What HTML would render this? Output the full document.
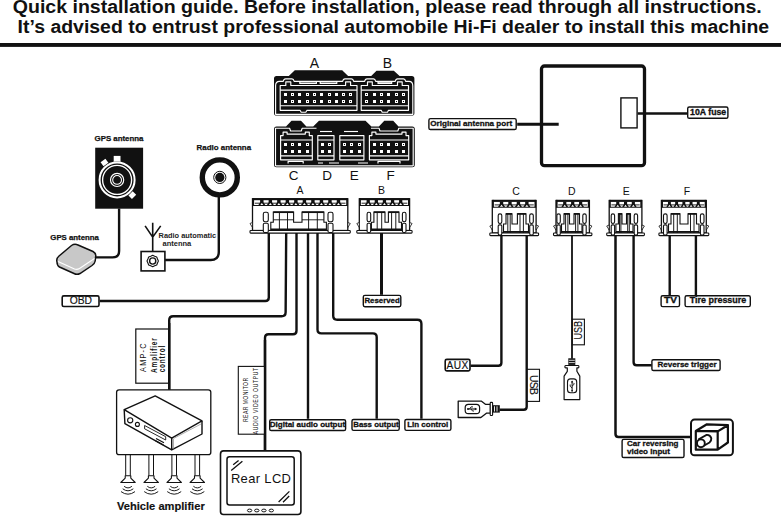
<!DOCTYPE html><html><head><meta charset="utf-8"><style>html,body{margin:0;padding:0;background:#fff;overflow:hidden}svg{display:block}</style></head><body>
<svg width="781" height="516" viewBox="0 0 781 516" style="font-family:'Liberation Sans',sans-serif" fill="#111">
<text x="12.8" y="12.8" font-size="17.5" font-weight="bold" textLength="749" lengthAdjust="spacingAndGlyphs">Quick installation guide. Before installation, please read through all instructions.</text>
<text x="17.6" y="32.7" font-size="17.5" font-weight="bold" textLength="751.5" lengthAdjust="spacingAndGlyphs">It’s advised to entrust professional automobile Hi-Fi dealer to install this machine</text>
<rect x="0" y="43" width="781" height="3.9" fill="#111"/>
<text x="314.4" y="67.6" font-size="14" text-anchor="middle">A</text>
<text x="387.3" y="67.6" font-size="14" text-anchor="middle">B</text>
<text x="293.5" y="179.5" font-size="13.5" text-anchor="middle">C</text>
<text x="327" y="179.5" font-size="13.5" text-anchor="middle">D</text>
<text x="354.2" y="179.5" font-size="13.5" text-anchor="middle">E</text>
<text x="390.5" y="179.5" font-size="13.5" text-anchor="middle">F</text>
<path d="M274,78.5 Q274,76 276.5,76 L288.8,76 L294.8,70.3 L342.2,70.3 L348.1,76 L371.2,76 L376.5,70.7 L393.8,70.7 L399.6,76 L411.8,76 Q414.4,76 414.4,78.5 L414.4,113 Q414.4,115.6 411.8,115.6 L276.5,115.6 Q274,115.6 274,113 Z" fill="#111"/>
<path d="M275.6,114.3 V85.5 Q275.6,81.4 279.5,81.4 H283.2 Q283.8,78.8 285.5,78.8 H292 Q293.6,78.8 294.2,81.4 H342.6 Q343.2,78.8 345,78.8 H351.5 Q353.1,78.8 353.7,81.4 H364.6 Q365.2,78.8 367,78.8 H373.5 Q375.1,78.8 375.7,81.4 H395.2 Q395.8,78.8 397.6,78.8 H403.5 Q405.1,78.8 405.7,81.4 H409 Q412.8,81.4 412.8,86 V114.3 Z" stroke="#fff" stroke-width="1.15" fill="none" stroke-linejoin="round"/>
<path d="M280.2,110.3 V85.5 H285.8 V81.9 H290.8 V85.5 H345.6 V81.9 H350.6 V85.5 H357 V110.3 H307 L305.8,112.2 H301.2 L300,110.3 Z" stroke="#fff" stroke-width="1.15" fill="none" stroke-linejoin="round"/>
<rect x="299.8" y="81.9" width="16.6" height="1.6" stroke="#fff" stroke-width="1.15" fill="none" stroke-linejoin="round"/>
<rect x="320.2" y="81.9" width="16.6" height="1.6" stroke="#fff" stroke-width="1.15" fill="none" stroke-linejoin="round"/>
<path d="M280.2,90.1 H357 M280.2,105.7 H357" stroke="#fff" stroke-width="1.15" fill="none" stroke-linejoin="round"/>
<rect x="284" y="93" width="3" height="3" fill="#fff"/>
<rect x="291" y="93" width="3" height="3" fill="#fff"/>
<rect x="292" y="94" width="1" height="1" fill="#111"/>
<rect x="298" y="93" width="3" height="3" fill="#fff"/>
<rect x="306" y="93" width="3" height="3" fill="#fff"/>
<rect x="307" y="94" width="1" height="1" fill="#111"/>
<rect x="313" y="93" width="3" height="3" fill="#fff"/>
<rect x="314" y="94" width="1" height="1" fill="#111"/>
<rect x="320" y="93" width="3" height="3" fill="#fff"/>
<rect x="328" y="93" width="3" height="3" fill="#fff"/>
<rect x="329" y="94" width="1" height="1" fill="#111"/>
<rect x="335" y="93" width="3" height="3" fill="#fff"/>
<rect x="342" y="93" width="3" height="3" fill="#fff"/>
<rect x="343" y="94" width="1" height="1" fill="#111"/>
<rect x="349" y="93" width="3" height="3" fill="#fff"/>
<rect x="350" y="94" width="1" height="1" fill="#111"/>
<rect x="284" y="100" width="3" height="3" fill="#fff"/>
<rect x="291" y="100" width="3" height="3" fill="#fff"/>
<rect x="292" y="101" width="1" height="1" fill="#111"/>
<rect x="298" y="100" width="3" height="3" fill="#fff"/>
<rect x="306" y="100" width="3" height="3" fill="#fff"/>
<rect x="307" y="101" width="1" height="1" fill="#111"/>
<rect x="313" y="100" width="3" height="3" fill="#fff"/>
<rect x="314" y="101" width="1" height="1" fill="#111"/>
<rect x="320" y="100" width="3" height="3" fill="#fff"/>
<rect x="328" y="100" width="3" height="3" fill="#fff"/>
<rect x="329" y="101" width="1" height="1" fill="#111"/>
<rect x="335" y="100" width="3" height="3" fill="#fff"/>
<rect x="342" y="100" width="3" height="3" fill="#fff"/>
<rect x="343" y="101" width="1" height="1" fill="#111"/>
<rect x="349" y="100" width="3" height="3" fill="#fff"/>
<rect x="350" y="101" width="1" height="1" fill="#111"/>
<path d="M361.2,110.3 V85.5 H367.5 V81.9 H372.3 V85.5 H397.5 V81.9 H402.2 V85.5 H408.5 V110.3 H388.5 L387.5,112.2 H382.2 L381.2,110.3 Z" stroke="#fff" stroke-width="1.15" fill="none" stroke-linejoin="round"/>
<rect x="378" y="81.9" width="13.7" height="1.5" stroke="#fff" stroke-width="1.15" fill="none" stroke-linejoin="round"/>
<path d="M361.2,90.1 H408.5 M361.2,105.7 H408.5" stroke="#fff" stroke-width="1.15" fill="none" stroke-linejoin="round"/>
<rect x="365" y="93" width="3" height="3" fill="#fff"/>
<rect x="366" y="94" width="1" height="1" fill="#111"/>
<rect x="373" y="93" width="3" height="3" fill="#fff"/>
<rect x="380" y="93" width="3" height="3" fill="#fff"/>
<rect x="381" y="94" width="1" height="1" fill="#111"/>
<rect x="387" y="93" width="3" height="3" fill="#fff"/>
<rect x="395" y="93" width="3" height="3" fill="#fff"/>
<rect x="396" y="94" width="1" height="1" fill="#111"/>
<rect x="402" y="93" width="3" height="3" fill="#fff"/>
<rect x="403" y="94" width="1" height="1" fill="#111"/>
<rect x="365" y="100" width="3" height="3" fill="#fff"/>
<rect x="366" y="101" width="1" height="1" fill="#111"/>
<rect x="373" y="100" width="3" height="3" fill="#fff"/>
<rect x="380" y="100" width="3" height="3" fill="#fff"/>
<rect x="381" y="101" width="1" height="1" fill="#111"/>
<rect x="387" y="100" width="3" height="3" fill="#fff"/>
<rect x="395" y="100" width="3" height="3" fill="#fff"/>
<rect x="396" y="101" width="1" height="1" fill="#111"/>
<rect x="402" y="100" width="3" height="3" fill="#fff"/>
<rect x="403" y="101" width="1" height="1" fill="#111"/>
<path d="M274,129 Q274,126.5 276.5,126.5 L286,126.5 L291.5,120.7 L301,120.7 L306.4,126.5 L313.2,126.5 L319,120.7 L365.5,120.7 L371.4,126.5 L378.9,126.5 L384.3,120.7 L393.2,120.7 L398.5,126.5 L412.3,126.5 Q414.8,126.5 414.8,129 L414.8,164.8 Q414.8,167.3 412.3,167.3 L276.5,167.3 Q274,167.3 274,164.8 Z" fill="#111"/>
<path d="M275.5,166 V128.2 H289.6 L290.6,131 H301.2 L302.2,128.2 H316.5" stroke="#fff" stroke-width="1.15" fill="none" stroke-linejoin="round"/>
<path d="M371,128.2 H379 L380,131 H397.8 L398.8,128.2 H413.2 V166" stroke="#fff" stroke-width="1.15" fill="none" stroke-linejoin="round"/>
<path d="M275.5,165.9 H413.2" stroke="#fff" stroke-width="1.15" fill="none" stroke-linejoin="round"/>
<path d="M280.6,159.8 V135.6 H283.1 V132.1 H287.1 V134.1 H305.3 V132.1 H309.3 V135.6 H312.3 V159.8 Z" stroke="#fff" stroke-width="1.15" fill="none" stroke-linejoin="round"/>
<path d="M280.6,140 H312.3 M280.6,155.8 H312.3" stroke="#fff" stroke-width="1.15" fill="none" stroke-linejoin="round"/>
<path d="M288.1,163.6 V161.3 H303.2 V163.6" stroke="#fff" stroke-width="1.15" fill="none" stroke-linejoin="round"/>
<rect x="284" y="143" width="3" height="3" fill="#fff"/>
<rect x="291" y="143" width="3" height="3" fill="#fff"/>
<rect x="292" y="144" width="1" height="1" fill="#111"/>
<rect x="298" y="143" width="3" height="3" fill="#fff"/>
<rect x="306" y="143" width="3" height="3" fill="#fff"/>
<rect x="307" y="144" width="1" height="1" fill="#111"/>
<rect x="284" y="150" width="3" height="3" fill="#fff"/>
<rect x="291" y="150" width="3" height="3" fill="#fff"/>
<rect x="298" y="150" width="3" height="3" fill="#fff"/>
<rect x="306" y="150" width="3" height="3" fill="#fff"/>
<path d="M317.8,159.8 V135.6 H334 V159.8 Z" stroke="#fff" stroke-width="1.15" fill="none" stroke-linejoin="round"/>
<path d="M317.8,140 H334 M317.8,155.8 H334" stroke="#fff" stroke-width="1.15" fill="none" stroke-linejoin="round"/>
<path d="M320,131.5 H332" stroke="#fff" stroke-width="1.15" fill="none" stroke-linejoin="round"/>
<rect x="321" y="143" width="3" height="3" fill="#fff"/>
<rect x="328" y="143" width="3" height="3" fill="#fff"/>
<rect x="329" y="144" width="1" height="1" fill="#111"/>
<rect x="321" y="150" width="3" height="3" fill="#fff"/>
<rect x="328" y="150" width="3" height="3" fill="#fff"/>
<path d="M339.8,159.8 V135.6 H363.9 V159.8 Z" stroke="#fff" stroke-width="1.15" fill="none" stroke-linejoin="round"/>
<path d="M339.8,140 H363.9 M339.8,155.8 H363.9" stroke="#fff" stroke-width="1.15" fill="none" stroke-linejoin="round"/>
<path d="M344,131.5 H358" stroke="#fff" stroke-width="1.15" fill="none" stroke-linejoin="round"/>
<rect x="343" y="143" width="3" height="3" fill="#fff"/>
<rect x="344" y="144" width="1" height="1" fill="#111"/>
<rect x="350" y="143" width="3" height="3" fill="#fff"/>
<rect x="351" y="144" width="1" height="1" fill="#111"/>
<rect x="358" y="143" width="3" height="3" fill="#fff"/>
<rect x="359" y="144" width="1" height="1" fill="#111"/>
<rect x="343" y="150" width="3" height="3" fill="#fff"/>
<rect x="350" y="150" width="3" height="3" fill="#fff"/>
<rect x="358" y="150" width="3" height="3" fill="#fff"/>
<path d="M369.4,159.8 V135.6 H371.9 V132.1 H375.9 V134.1 H402 V132.1 H406 V135.6 H408.7 V159.8 Z" stroke="#fff" stroke-width="1.15" fill="none" stroke-linejoin="round"/>
<path d="M369.4,140 H408.7 M369.4,155.8 H408.7" stroke="#fff" stroke-width="1.15" fill="none" stroke-linejoin="round"/>
<path d="M378,163.6 V161.3 H400 V163.6" stroke="#fff" stroke-width="1.15" fill="none" stroke-linejoin="round"/>
<rect x="373" y="143" width="3" height="3" fill="#fff"/>
<rect x="380" y="143" width="3" height="3" fill="#fff"/>
<rect x="381" y="144" width="1" height="1" fill="#111"/>
<rect x="387" y="143" width="3" height="3" fill="#fff"/>
<rect x="395" y="143" width="3" height="3" fill="#fff"/>
<rect x="396" y="144" width="1" height="1" fill="#111"/>
<rect x="402" y="143" width="3" height="3" fill="#fff"/>
<rect x="403" y="144" width="1" height="1" fill="#111"/>
<rect x="373" y="150" width="3" height="3" fill="#fff"/>
<rect x="380" y="150" width="3" height="3" fill="#fff"/>
<rect x="387" y="150" width="3" height="3" fill="#fff"/>
<rect x="395" y="150" width="3" height="3" fill="#fff"/>
<rect x="402" y="150" width="3" height="3" fill="#fff"/>
<path d="M318,163 H323 M329,163 H339 M358,163 H368" stroke="#fff" stroke-width="1.15" fill="none" stroke-linejoin="round"/>
<rect x="541.5" y="66" width="103" height="99.7" rx="3" fill="none" stroke="#111" stroke-width="3.3"/>
<rect x="620.9" y="97.9" width="16.2" height="30" fill="#fff" stroke="#111" stroke-width="1.4"/>
<path d="M517.2,124.3 H558.7" fill="none" stroke="#111" stroke-width="3" stroke-linecap="butt" stroke-linejoin="round"/>
<path d="M637.7,113.5 H687.5" fill="none" stroke="#111" stroke-width="2.5" stroke-linecap="butt" stroke-linejoin="round"/>
<rect x="428.90" y="118.60" width="87.30" height="10.90" rx="1.6" fill="#fff" stroke="#111" stroke-width="1.4"/>
<text x="430.32" y="126.1" font-size="7.99" font-weight="bold" textLength="81.78" lengthAdjust="spacingAndGlyphs" stroke="#111" stroke-width="0.3">Original antenna port</text>
<rect x="687.70" y="107.00" width="40.20" height="11.30" rx="1.6" fill="#fff" stroke="#111" stroke-width="1.4"/>
<text x="690.11" y="114.8" font-size="8.14" font-weight="bold" textLength="36.09" lengthAdjust="spacingAndGlyphs" stroke="#111" stroke-width="0.3">10A fuse</text>
<text x="300" y="193.6" font-size="10.5" text-anchor="middle">A</text>
<text x="381.6" y="193.6" font-size="10.5" text-anchor="middle">B</text>
<text x="516.1" y="194.9" font-size="10.5" text-anchor="middle">C</text>
<text x="571.9" y="194.9" font-size="10.5" text-anchor="middle">D</text>
<text x="626.3" y="194.9" font-size="10.5" text-anchor="middle">E</text>
<text x="687" y="194.9" font-size="10.5" text-anchor="middle">F</text>
<rect x="252.5" y="198.8" width="95.30000000000001" height="31.69999999999999" fill="#fff" stroke="#111" stroke-width="1.3"/>
<rect x="252.5" y="198.20000000000002" width="95.30000000000001" height="2" fill="#111"/>
<path d="M260.11,199.8 H263.52 V202.20000000000002 L265.40,205.20000000000002 H263.52 L261.82,203.0 L260.11,205.20000000000002 H258.24 L260.11,202.20000000000002 Z" fill="#111"/>
<path d="M254.83,203.20000000000002 H260.28" stroke="#111" stroke-width="0.9"/>
<path d="M268.63,199.8 H272.04 V202.20000000000002 L273.91,205.20000000000002 H272.04 L270.34,203.0 L268.63,205.20000000000002 H266.76 L268.63,202.20000000000002 Z" fill="#111"/>
<path d="M263.35,203.20000000000002 H268.80" stroke="#111" stroke-width="0.9"/>
<path d="M277.15,199.8 H280.56 V202.20000000000002 L282.43,205.20000000000002 H280.56 L278.85,203.0 L277.15,205.20000000000002 H275.28 L277.15,202.20000000000002 Z" fill="#111"/>
<path d="M271.87,203.20000000000002 H277.32" stroke="#111" stroke-width="0.9"/>
<path d="M285.67,199.8 H289.08 V202.20000000000002 L290.95,205.20000000000002 H289.08 L287.37,203.0 L285.67,205.20000000000002 H283.80 L285.67,202.20000000000002 Z" fill="#111"/>
<path d="M280.39,203.20000000000002 H285.84" stroke="#111" stroke-width="0.9"/>
<path d="M294.19,199.8 H297.59 V202.20000000000002 L299.47,205.20000000000002 H297.59 L295.89,203.0 L294.19,205.20000000000002 H292.31 L294.19,202.20000000000002 Z" fill="#111"/>
<path d="M288.91,203.20000000000002 H294.36" stroke="#111" stroke-width="0.9"/>
<path d="M302.71,199.8 H306.11 V202.20000000000002 L307.99,205.20000000000002 H306.11 L304.41,203.0 L302.71,205.20000000000002 H300.83 L302.71,202.20000000000002 Z" fill="#111"/>
<path d="M297.42,203.20000000000002 H302.88" stroke="#111" stroke-width="0.9"/>
<path d="M311.22,199.8 H314.63 V202.20000000000002 L316.50,205.20000000000002 H314.63 L312.93,203.0 L311.22,205.20000000000002 H309.35 L311.22,202.20000000000002 Z" fill="#111"/>
<path d="M305.94,203.20000000000002 H311.39" stroke="#111" stroke-width="0.9"/>
<path d="M319.74,199.8 H323.15 V202.20000000000002 L325.02,205.20000000000002 H323.15 L321.45,203.0 L319.74,205.20000000000002 H317.87 L319.74,202.20000000000002 Z" fill="#111"/>
<path d="M314.46,203.20000000000002 H319.91" stroke="#111" stroke-width="0.9"/>
<path d="M328.26,199.8 H331.67 V202.20000000000002 L333.54,205.20000000000002 H331.67 L329.96,203.0 L328.26,205.20000000000002 H326.39 L328.26,202.20000000000002 Z" fill="#111"/>
<path d="M322.98,203.20000000000002 H328.43" stroke="#111" stroke-width="0.9"/>
<path d="M336.78,199.8 H340.19 V202.20000000000002 L342.06,205.20000000000002 H340.19 L338.48,203.0 L336.78,205.20000000000002 H334.90 L336.78,202.20000000000002 Z" fill="#111"/>
<path d="M331.50,203.20000000000002 H336.95" stroke="#111" stroke-width="0.9"/>
<path d="M340.02,203.20000000000002 H345.47" stroke="#111" stroke-width="0.9"/>
<rect x="252.5" y="198.20000000000002" width="1.6" height="7.4" fill="#111"/><rect x="346.2" y="198.20000000000002" width="1.6" height="7.4" fill="#111"/>
<path d="M252.5,205.5 H347.8" stroke="#111" stroke-width="1.1"/>
<rect x="250.0" y="230.5" width="100.30000000000001" height="2.6" rx="0.8" fill="#fff" stroke="#111" stroke-width="1.1"/>
<path d="M250.0,223.5 L252.5,222.5 L252.5,227.5 Z" fill="#fff" stroke="#111" stroke-width="0.8"/>
<path d="M350.3,223.5 L347.8,222.5 L347.8,227.5 Z" fill="#fff" stroke="#111" stroke-width="0.8"/>
<rect x="263.3" y="212.20000000000002" width="5" height="9.6" rx="1.7" fill="#fff" stroke="#111" stroke-width="1.1"/>
<rect x="263.3" y="223.20000000000002" width="5" height="9.29999999999999" rx="1.2" fill="#fff" stroke="#111" stroke-width="1.1"/>
<rect x="328.0" y="212.20000000000002" width="5" height="9.6" rx="1.7" fill="#fff" stroke="#111" stroke-width="1.1"/>
<rect x="328.0" y="223.20000000000002" width="5" height="9.29999999999999" rx="1.2" fill="#fff" stroke="#111" stroke-width="1.1"/>
<path d="M270.8,230.5 V222.3 H273.3 V212.0 H293.6 V222.3 H302 V212.0 H323.9 V222.3 H326.4 V230.5" fill="none" stroke="#111" stroke-width="1.1"/>
<path d="M273.3,212.20000000000002 H293.6" stroke="#111" stroke-width="1.7"/>
<path d="M279.4,212.0 V230.5" stroke="#111" stroke-width="0.95"/>
<path d="M287.5,212.0 V230.5" stroke="#111" stroke-width="0.95"/>
<path d="M273.3,219.8 H293.6" stroke="#111" stroke-width="0.9"/>
<path d="M302,212.20000000000002 H323.9" stroke="#111" stroke-width="1.7"/>
<path d="M308.6,212.0 V230.5" stroke="#111" stroke-width="0.95"/>
<path d="M317.3,212.0 V230.5" stroke="#111" stroke-width="0.95"/>
<path d="M302,219.8 H323.9" stroke="#111" stroke-width="0.9"/>
<path d="M270.8,229.3 H326.4" stroke="#111" stroke-width="1.6"/>
<rect x="359.3" y="198.8" width="50.30000000000001" height="31.69999999999999" fill="#fff" stroke="#111" stroke-width="1.3"/>
<rect x="359.3" y="198.20000000000002" width="50.30000000000001" height="2" fill="#111"/>
<path d="M366.59,199.8 H369.84 V202.20000000000002 L371.63,205.20000000000002 H369.84 L368.22,203.0 L366.59,205.20000000000002 H364.81 L366.59,202.20000000000002 Z" fill="#111"/>
<path d="M361.56,203.20000000000002 H366.76" stroke="#111" stroke-width="0.9"/>
<path d="M374.71,199.8 H377.96 V202.20000000000002 L379.74,205.20000000000002 H377.96 L376.33,203.0 L374.71,205.20000000000002 H372.92 L374.71,202.20000000000002 Z" fill="#111"/>
<path d="M369.68,203.20000000000002 H374.87" stroke="#111" stroke-width="0.9"/>
<path d="M382.83,199.8 H386.07 V202.20000000000002 L387.86,205.20000000000002 H386.07 L384.45,203.0 L382.83,205.20000000000002 H381.04 L382.83,202.20000000000002 Z" fill="#111"/>
<path d="M377.79,203.20000000000002 H382.99" stroke="#111" stroke-width="0.9"/>
<path d="M390.94,199.8 H394.19 V202.20000000000002 L395.98,205.20000000000002 H394.19 L392.57,203.0 L390.94,205.20000000000002 H389.16 L390.94,202.20000000000002 Z" fill="#111"/>
<path d="M385.91,203.20000000000002 H391.11" stroke="#111" stroke-width="0.9"/>
<path d="M399.06,199.8 H402.31 V202.20000000000002 L404.09,205.20000000000002 H402.31 L400.68,203.0 L399.06,205.20000000000002 H397.27 L399.06,202.20000000000002 Z" fill="#111"/>
<path d="M394.03,203.20000000000002 H399.22" stroke="#111" stroke-width="0.9"/>
<path d="M402.14,203.20000000000002 H407.34" stroke="#111" stroke-width="0.9"/>
<rect x="359.3" y="198.20000000000002" width="1.6" height="7.4" fill="#111"/><rect x="408.0" y="198.20000000000002" width="1.6" height="7.4" fill="#111"/>
<path d="M359.3,205.5 H409.6" stroke="#111" stroke-width="1.1"/>
<rect x="356.8" y="230.5" width="55.30000000000001" height="2.6" rx="0.8" fill="#fff" stroke="#111" stroke-width="1.1"/>
<path d="M356.8,223.5 L359.3,222.5 L359.3,227.5 Z" fill="#fff" stroke="#111" stroke-width="0.8"/>
<path d="M412.1,223.5 L409.6,222.5 L409.6,227.5 Z" fill="#fff" stroke="#111" stroke-width="0.8"/>
<rect x="367.09999999999997" y="212.20000000000002" width="3.6" height="9.6" rx="1.7" fill="#fff" stroke="#111" stroke-width="1.1"/>
<rect x="367.09999999999997" y="223.20000000000002" width="3.6" height="9.29999999999999" rx="1.2" fill="#fff" stroke="#111" stroke-width="1.1"/>
<rect x="402.4" y="212.20000000000002" width="3.6" height="9.6" rx="1.7" fill="#fff" stroke="#111" stroke-width="1.1"/>
<rect x="402.4" y="223.20000000000002" width="3.6" height="9.29999999999999" rx="1.2" fill="#fff" stroke="#111" stroke-width="1.1"/>
<path d="M371.4,230.5 V222.3 H373.9 V212.0 H385 V222.3 H388.4 V212.0 H399.0 V222.3 H401.5 V230.5" fill="none" stroke="#111" stroke-width="1.1"/>
<path d="M373.9,212.20000000000002 H385" stroke="#111" stroke-width="1.7"/>
<path d="M377.2,212.0 V230.5" stroke="#111" stroke-width="0.95"/>
<path d="M381.7,212.0 V230.5" stroke="#111" stroke-width="0.95"/>
<path d="M388.4,212.20000000000002 H399.0" stroke="#111" stroke-width="1.7"/>
<path d="M391.6,212.0 V230.5" stroke="#111" stroke-width="0.95"/>
<path d="M395.8,212.0 V230.5" stroke="#111" stroke-width="0.95"/>
<path d="M371.4,229.3 H401.5" stroke="#111" stroke-width="1.6"/>
<rect x="492.3" y="200.5" width="43.80000000000001" height="32.5" fill="#fff" stroke="#111" stroke-width="1.3"/>
<rect x="492.3" y="199.9" width="43.80000000000001" height="2" fill="#111"/>
<path d="M499.85,201.5 H503.23 V203.9 L505.08,206.9 H503.23 L501.54,204.7 L499.85,206.9 H498.00 L499.85,203.9 Z" fill="#111"/>
<path d="M494.62,204.9 H500.02" stroke="#111" stroke-width="0.9"/>
<path d="M508.29,201.5 H511.67 V203.9 L513.52,206.9 H511.67 L509.98,204.7 L508.29,206.9 H506.44 L508.29,203.9 Z" fill="#111"/>
<path d="M503.06,204.9 H508.46" stroke="#111" stroke-width="0.9"/>
<path d="M516.73,201.5 H520.11 V203.9 L521.96,206.9 H520.11 L518.42,204.7 L516.73,206.9 H514.88 L516.73,203.9 Z" fill="#111"/>
<path d="M511.50,204.9 H516.90" stroke="#111" stroke-width="0.9"/>
<path d="M525.17,201.5 H528.55 V203.9 L530.40,206.9 H528.55 L526.86,204.7 L525.17,206.9 H523.32 L525.17,203.9 Z" fill="#111"/>
<path d="M519.94,204.9 H525.34" stroke="#111" stroke-width="0.9"/>
<path d="M528.38,204.9 H533.78" stroke="#111" stroke-width="0.9"/>
<rect x="492.3" y="199.9" width="1.6" height="7.4" fill="#111"/><rect x="534.5" y="199.9" width="1.6" height="7.4" fill="#111"/>
<path d="M492.3,207.2 H536.1" stroke="#111" stroke-width="1.1"/>
<rect x="489.8" y="233" width="48.80000000000001" height="2.6" rx="0.8" fill="#fff" stroke="#111" stroke-width="1.1"/>
<path d="M489.8,226 L492.3,225 L492.3,230 Z" fill="#fff" stroke="#111" stroke-width="0.8"/>
<path d="M538.6,226 L536.1,225 L536.1,230 Z" fill="#fff" stroke="#111" stroke-width="0.8"/>
<rect x="498.2" y="213.9" width="3.6" height="9.6" rx="1.7" fill="#fff" stroke="#111" stroke-width="1.1"/>
<rect x="498.2" y="224.9" width="3.6" height="10.100000000000001" rx="1.2" fill="#fff" stroke="#111" stroke-width="1.1"/>
<rect x="529.7" y="213.9" width="3.6" height="9.6" rx="1.7" fill="#fff" stroke="#111" stroke-width="1.1"/>
<rect x="529.7" y="224.9" width="3.6" height="10.100000000000001" rx="1.2" fill="#fff" stroke="#111" stroke-width="1.1"/>
<path d="M503.5,233 V224.0 H506.0 V213.7 H512 V224.0 H517.4 V213.7 H526.0 V224.0 H528.5 V233" fill="none" stroke="#111" stroke-width="1.1"/>
<path d="M506.0,213.9 H512" stroke="#111" stroke-width="1.7"/>
<path d="M507.8,213.7 V233" stroke="#111" stroke-width="0.95"/>
<path d="M510.2,213.7 V233" stroke="#111" stroke-width="0.95"/>
<path d="M517.4,213.9 H526.0" stroke="#111" stroke-width="1.7"/>
<path d="M520.0,213.7 V233" stroke="#111" stroke-width="0.95"/>
<path d="M523.4,213.7 V233" stroke="#111" stroke-width="0.95"/>
<path d="M503.5,231.8 H528.5" stroke="#111" stroke-width="1.6"/>
<rect x="556" y="200.5" width="33.39999999999998" height="32.5" fill="#fff" stroke="#111" stroke-width="1.3"/>
<rect x="556" y="199.9" width="33.39999999999998" height="2" fill="#111"/>
<path d="M563.16,201.5 H566.34 V203.9 L568.09,206.9 H566.34 L564.75,204.7 L563.16,206.9 H561.41 L563.16,203.9 Z" fill="#111"/>
<path d="M558.23,204.9 H563.32" stroke="#111" stroke-width="0.9"/>
<path d="M571.11,201.5 H574.29 V203.9 L576.04,206.9 H574.29 L572.70,204.7 L571.11,206.9 H569.36 L571.11,203.9 Z" fill="#111"/>
<path d="M566.18,204.9 H571.27" stroke="#111" stroke-width="0.9"/>
<path d="M579.06,201.5 H582.24 V203.9 L583.99,206.9 H582.24 L580.65,204.7 L579.06,206.9 H577.31 L579.06,203.9 Z" fill="#111"/>
<path d="M574.13,204.9 H579.22" stroke="#111" stroke-width="0.9"/>
<path d="M582.08,204.9 H587.17" stroke="#111" stroke-width="0.9"/>
<rect x="556" y="199.9" width="1.6" height="7.4" fill="#111"/><rect x="587.8" y="199.9" width="1.6" height="7.4" fill="#111"/>
<path d="M556,207.2 H589.4" stroke="#111" stroke-width="1.1"/>
<rect x="553.5" y="233" width="38.39999999999998" height="2.6" rx="0.8" fill="#fff" stroke="#111" stroke-width="1.1"/>
<path d="M553.5,226 L556,225 L556,230 Z" fill="#fff" stroke="#111" stroke-width="0.8"/>
<path d="M591.9,226 L589.4,225 L589.4,230 Z" fill="#fff" stroke="#111" stroke-width="0.8"/>
<rect x="556.9" y="213.9" width="3.4" height="9.6" rx="1.7" fill="#fff" stroke="#111" stroke-width="1.1"/>
<rect x="556.9" y="224.9" width="3.4" height="10.100000000000001" rx="1.2" fill="#fff" stroke="#111" stroke-width="1.1"/>
<rect x="582.8" y="213.9" width="3.4" height="9.6" rx="1.7" fill="#fff" stroke="#111" stroke-width="1.1"/>
<rect x="582.8" y="224.9" width="3.4" height="10.100000000000001" rx="1.2" fill="#fff" stroke="#111" stroke-width="1.1"/>
<path d="M561.5,233 V224.0 H564.0 V213.7 H569.5 V224.0 H574 V213.7 H579.5 V224.0 H582 V233" fill="none" stroke="#111" stroke-width="1.1"/>
<path d="M564.0,213.9 H569.5" stroke="#111" stroke-width="1.7"/>
<path d="M565.6,213.7 V233" stroke="#111" stroke-width="0.95"/>
<path d="M567.9,213.7 V233" stroke="#111" stroke-width="0.95"/>
<path d="M574,213.9 H579.5" stroke="#111" stroke-width="1.7"/>
<path d="M575.6,213.7 V233" stroke="#111" stroke-width="0.95"/>
<path d="M577.9,213.7 V233" stroke="#111" stroke-width="0.95"/>
<path d="M561.5,231.8 H582" stroke="#111" stroke-width="1.6"/>
<rect x="609.2" y="200.5" width="32.69999999999993" height="32.5" fill="#fff" stroke="#111" stroke-width="1.3"/>
<rect x="609.2" y="199.9" width="32.69999999999993" height="2" fill="#111"/>
<path d="M616.22,201.5 H619.33 V203.9 L621.04,206.9 H619.33 L617.78,204.7 L616.22,206.9 H614.51 L616.22,203.9 Z" fill="#111"/>
<path d="M611.40,204.9 H616.38" stroke="#111" stroke-width="0.9"/>
<path d="M624.00,201.5 H627.11 V203.9 L628.82,206.9 H627.11 L625.55,204.7 L624.00,206.9 H622.28 L624.00,203.9 Z" fill="#111"/>
<path d="M619.17,204.9 H624.15" stroke="#111" stroke-width="0.9"/>
<path d="M631.77,201.5 H634.88 V203.9 L636.59,206.9 H634.88 L633.33,204.7 L631.77,206.9 H630.06 L631.77,203.9 Z" fill="#111"/>
<path d="M626.95,204.9 H631.93" stroke="#111" stroke-width="0.9"/>
<path d="M634.72,204.9 H639.70" stroke="#111" stroke-width="0.9"/>
<rect x="609.2" y="199.9" width="1.6" height="7.4" fill="#111"/><rect x="640.3" y="199.9" width="1.6" height="7.4" fill="#111"/>
<path d="M609.2,207.2 H641.9" stroke="#111" stroke-width="1.1"/>
<rect x="606.7" y="233" width="37.69999999999993" height="2.6" rx="0.8" fill="#fff" stroke="#111" stroke-width="1.1"/>
<path d="M606.7,226 L609.2,225 L609.2,230 Z" fill="#fff" stroke="#111" stroke-width="0.8"/>
<path d="M644.4,226 L641.9,225 L641.9,230 Z" fill="#fff" stroke="#111" stroke-width="0.8"/>
<rect x="611.1999999999999" y="213.9" width="3.4" height="9.6" rx="1.7" fill="#fff" stroke="#111" stroke-width="1.1"/>
<rect x="611.1999999999999" y="224.9" width="3.4" height="10.100000000000001" rx="1.2" fill="#fff" stroke="#111" stroke-width="1.1"/>
<rect x="634.1999999999999" y="213.9" width="3.4" height="9.6" rx="1.7" fill="#fff" stroke="#111" stroke-width="1.1"/>
<rect x="634.1999999999999" y="224.9" width="3.4" height="10.100000000000001" rx="1.2" fill="#fff" stroke="#111" stroke-width="1.1"/>
<path d="M615.9,233 V224.0 H618.4 V213.7 H622 V224.0 H626.5 V213.7 H630.5 V224.0 H633 V233" fill="none" stroke="#111" stroke-width="1.1"/>
<path d="M618.4,213.9 H622" stroke="#111" stroke-width="1.7"/>
<path d="M619.5,213.7 V233" stroke="#111" stroke-width="0.95"/>
<path d="M620.9,213.7 V233" stroke="#111" stroke-width="0.95"/>
<path d="M626.5,213.9 H630.5" stroke="#111" stroke-width="1.7"/>
<path d="M627.7,213.7 V233" stroke="#111" stroke-width="0.95"/>
<path d="M629.3,213.7 V233" stroke="#111" stroke-width="0.95"/>
<path d="M615.9,231.8 H633" stroke="#111" stroke-width="1.6"/>
<rect x="661.4" y="200.5" width="44.89999999999998" height="32.5" fill="#fff" stroke="#111" stroke-width="1.3"/>
<rect x="661.4" y="199.9" width="44.89999999999998" height="2" fill="#111"/>
<path d="M667.97,201.5 H670.86 V203.9 L672.45,206.9 H670.86 L669.42,204.7 L667.97,206.9 H666.39 L667.97,203.9 Z" fill="#111"/>
<path d="M663.50,204.9 H668.12" stroke="#111" stroke-width="0.9"/>
<path d="M675.19,201.5 H678.08 V203.9 L679.66,206.9 H678.08 L676.63,204.7 L675.19,206.9 H673.60 L675.19,203.9 Z" fill="#111"/>
<path d="M670.72,204.9 H675.33" stroke="#111" stroke-width="0.9"/>
<path d="M682.41,201.5 H685.29 V203.9 L686.88,206.9 H685.29 L683.85,204.7 L682.41,206.9 H680.82 L682.41,203.9 Z" fill="#111"/>
<path d="M677.93,204.9 H682.55" stroke="#111" stroke-width="0.9"/>
<path d="M689.62,201.5 H692.51 V203.9 L694.10,206.9 H692.51 L691.07,204.7 L689.62,206.9 H688.04 L689.62,203.9 Z" fill="#111"/>
<path d="M685.15,204.9 H689.77" stroke="#111" stroke-width="0.9"/>
<path d="M696.84,201.5 H699.73 V203.9 L701.31,206.9 H699.73 L698.28,204.7 L696.84,206.9 H695.25 L696.84,203.9 Z" fill="#111"/>
<path d="M692.37,204.9 H696.98" stroke="#111" stroke-width="0.9"/>
<path d="M699.58,204.9 H704.20" stroke="#111" stroke-width="0.9"/>
<rect x="661.4" y="199.9" width="1.6" height="7.4" fill="#111"/><rect x="704.6999999999999" y="199.9" width="1.6" height="7.4" fill="#111"/>
<path d="M661.4,207.2 H706.3" stroke="#111" stroke-width="1.1"/>
<rect x="658.9" y="233" width="49.89999999999998" height="2.6" rx="0.8" fill="#fff" stroke="#111" stroke-width="1.1"/>
<path d="M658.9,226 L661.4,225 L661.4,230 Z" fill="#fff" stroke="#111" stroke-width="0.8"/>
<path d="M708.8,226 L706.3,225 L706.3,230 Z" fill="#fff" stroke="#111" stroke-width="0.8"/>
<rect x="663.5" y="213.9" width="3.6" height="9.6" rx="1.7" fill="#fff" stroke="#111" stroke-width="1.1"/>
<rect x="663.5" y="224.9" width="3.6" height="10.100000000000001" rx="1.2" fill="#fff" stroke="#111" stroke-width="1.1"/>
<rect x="700.4000000000001" y="213.9" width="3.6" height="9.6" rx="1.7" fill="#fff" stroke="#111" stroke-width="1.1"/>
<rect x="700.4000000000001" y="224.9" width="3.6" height="10.100000000000001" rx="1.2" fill="#fff" stroke="#111" stroke-width="1.1"/>
<path d="M668.5,233 V224.0 H671.0 V213.7 H680 V224.0 H688 V213.7 H696.5 V224.0 H699 V233" fill="none" stroke="#111" stroke-width="1.1"/>
<path d="M671.0,213.9 H680" stroke="#111" stroke-width="1.7"/>
<path d="M673.7,213.7 V233" stroke="#111" stroke-width="0.95"/>
<path d="M677.3,213.7 V233" stroke="#111" stroke-width="0.95"/>
<path d="M688,213.9 H696.5" stroke="#111" stroke-width="1.7"/>
<path d="M690.5,213.7 V233" stroke="#111" stroke-width="0.95"/>
<path d="M694.0,213.7 V233" stroke="#111" stroke-width="0.95"/>
<path d="M668.5,231.8 H699" stroke="#111" stroke-width="1.6"/>
<text x="94.56" y="140.6" font-size="7.41" font-weight="bold" textLength="48.93" lengthAdjust="spacingAndGlyphs" stroke="#111" stroke-width="0.25">GPS antenna</text>
<rect x="95.2" y="147.7" width="47.9" height="61" fill="#111"/>
<g transform="translate(117.1,179.9)">
<rect x="-3.4" y="-24" width="6.8" height="7" fill="#fff"/>
<rect x="-3" y="-3" width="6" height="5" fill="#fff" transform="rotate(-36) translate(0,-21)"/>
<rect x="-3" y="-3" width="6" height="5" fill="#fff" transform="rotate(135) translate(0,-21)"/>
<circle r="18.5" fill="#111"/><circle r="17.5" fill="none" stroke="#fff" stroke-width="2"/>
<circle r="14.5" fill="none" stroke="#fff" stroke-width="1.35"/>
<circle r="6.6" fill="none" stroke="#fff" stroke-width="1.15"/><circle r="4.4" fill="none" stroke="#fff" stroke-width="1.05"/>
</g>
<path d="M119.1,208.5 L119.10,250.90 Q119.1,257.4 112.60,257.40 L95,257.4" fill="none" stroke="#111" stroke-width="2.4" stroke-linecap="butt" stroke-linejoin="round"/>
<text x="50.36" y="239.9" font-size="7.41" font-weight="bold" textLength="48.53" lengthAdjust="spacingAndGlyphs" stroke="#111" stroke-width="0.25">GPS antenna</text>
<path d="M57,262 Q56,258.5 59,256 L71.5,245.5 Q74.5,243.5 78,245 L93,251.5 Q96.5,253.5 95.6,257 L95.2,261 Q94.8,263.5 92,265.5 L80,273.5 Q77,275 74,273.5 L59.5,267 Q57,265.5 57,262 Z" fill="#c8c8c8" stroke="#111" stroke-width="1.5"/>
<path d="M58,261.5 L74.5,269 Q77,270 79.5,268.5 L94.5,258.5" fill="none" stroke="#fff" stroke-width="1.2"/>
<text x="196.64" y="149.8" font-size="7.70" font-weight="bold" textLength="54.45" lengthAdjust="spacingAndGlyphs" stroke="#111" stroke-width="0.25">Radio antenna</text>
<circle cx="219.8" cy="177.4" r="17.5" fill="#fff" stroke="#111" stroke-width="5.4"/>
<circle cx="219.8" cy="177.4" r="6.1" fill="#fff" stroke="#111" stroke-width="1"/>
<circle cx="219.8" cy="177.4" r="4.6" fill="#111"/>
<path d="M218.8,197 L218.80,252.00 Q218.8,260 210.80,260.00 L165.1,260" fill="none" stroke="#111" stroke-width="2.4" stroke-linecap="butt" stroke-linejoin="round"/>
<rect x="141.1" y="251.5" width="23.8" height="19.4" fill="#fff" stroke="#111" stroke-width="1.6"/>
<path d="M158.40,261.00 L157.50,262.99 L156.73,265.03 L154.69,265.80 L152.70,266.70 L150.71,265.80 L148.67,265.03 L147.90,262.99 L147.00,261.00 L147.90,259.01 L148.67,256.97 L150.71,256.20 L152.70,255.30 L154.69,256.20 L156.73,256.97 L157.50,259.01 Z" fill="#fff" stroke="#111" stroke-width="1.1" stroke-linejoin="round"/>
<circle cx="152.7" cy="261" r="3.1" fill="none" stroke="#111" stroke-width="1.4"/>
<path d="M152.7,251 V222.7 M145.1,225.9 L152.7,237.1 L160.7,225.9" fill="none" stroke="#111" stroke-width="1.6"/>
<text x="158.59" y="237.8" font-size="6.83" font-weight="bold" textLength="57.59" lengthAdjust="spacingAndGlyphs" fill="#222">Radio automatic</text>
<text x="162.49" y="245.7" font-size="6.83" font-weight="bold" textLength="28.79" lengthAdjust="spacingAndGlyphs" fill="#222">antenna</text>
<path d="M268.8,233 L268.80,297.50 Q268.8,301 265.30,301.00 L99.7,301" fill="none" stroke="#111" stroke-width="2.4" stroke-linecap="butt" stroke-linejoin="round"/>
<path d="M286.2,233 L285.63,312.20 Q285.6,316.2 281.60,316.20 L173.20,316.20 Q169.2,316.2 169.20,320.20 L169.2,390" fill="none" stroke="#111" stroke-width="2.4" stroke-linecap="butt" stroke-linejoin="round"/>
<path d="M296.5,233 L296.50,330.70 Q296.5,334.2 293.00,334.20 L268.50,334.20 Q265,334.2 265.00,337.70 L265,450.5" fill="none" stroke="#111" stroke-width="2.4" stroke-linecap="butt" stroke-linejoin="round"/>
<path d="M308,233 V418.8" fill="none" stroke="#111" stroke-width="2.4" stroke-linecap="butt" stroke-linejoin="round"/>
<path d="M317.5,233 L317.50,329.60 Q317.5,333.4 321.30,333.40 L372.90,333.40 Q376.7,333.4 376.70,337.20 L376.7,418.8" fill="none" stroke="#111" stroke-width="2.4" stroke-linecap="butt" stroke-linejoin="round"/>
<path d="M333.2,233 L333.20,315.70 Q333.2,319.7 337.20,319.70 L417.40,319.70 Q421.4,319.7 421.40,323.70 L421.4,418.8" fill="none" stroke="#111" stroke-width="2.4" stroke-linecap="butt" stroke-linejoin="round"/>
<path d="M381.5,233 V294.8" fill="none" stroke="#111" stroke-width="3" stroke-linecap="butt" stroke-linejoin="round"/>
<rect x="62.20" y="295.90" width="36.80" height="10.60" rx="1.6" fill="#fff" stroke="#111" stroke-width="1.6"/>
<text x="69.78" y="303.8" font-size="10.32" font-weight="normal" textLength="22.14" lengthAdjust="spacing" stroke="#111" stroke-width="0.15">OBD</text>
<rect x="363.30" y="295.40" width="37.50" height="11.30" rx="1.6" fill="#fff" stroke="#111" stroke-width="1.4"/>
<text x="364.44" y="302.8" font-size="7.70" font-weight="bold" textLength="35.35" lengthAdjust="spacingAndGlyphs" stroke="#111" stroke-width="0.3">Reserved</text>
<rect x="269.70" y="419.70" width="75.90" height="10.80" rx="1.6" fill="#fff" stroke="#111" stroke-width="1.4"/>
<text x="269.84" y="426.6" font-size="7.70" font-weight="bold" textLength="75.25" lengthAdjust="spacingAndGlyphs" stroke="#111" stroke-width="0.3">Digital audio output</text>
<rect x="352.00" y="419.50" width="47.20" height="10.90" rx="1.6" fill="#fff" stroke="#111" stroke-width="1.4"/>
<text x="353.22" y="426.8" font-size="7.99" font-weight="bold" textLength="45.38" lengthAdjust="spacingAndGlyphs" stroke="#111" stroke-width="0.3">Bass output</text>
<rect x="404.90" y="419.50" width="46.00" height="10.90" rx="1.6" fill="#fff" stroke="#111" stroke-width="1.4"/>
<text x="407.22" y="426.8" font-size="7.99" font-weight="bold" textLength="41.08" lengthAdjust="spacingAndGlyphs" stroke="#111" stroke-width="0.3">Lin control</text>
<rect x="135.8" y="329" width="33.4" height="54.2" fill="#fff" stroke="#111" stroke-width="1.2"/>
<g transform="translate(145.8,371.9) rotate(-90) scale(0.8,1)"><text x="0" y="0" font-size="9.1" textLength="35.5" lengthAdjust="spacing">AMP-C</text></g>
<g transform="translate(157.1,372.9) rotate(-90) scale(0.78,1)"><text x="0" y="0" font-size="8.3" font-weight="bold" textLength="44.5" lengthAdjust="spacing">Amplifier</text></g>
<g transform="translate(164.7,372.3) rotate(-90) scale(0.78,1)"><text x="0" y="0" font-size="8.3" font-weight="bold" textLength="34" lengthAdjust="spacing">control</text></g>
<path d="M169.2,323 V390" fill="none" stroke="#111" stroke-width="2.4" stroke-linecap="butt" stroke-linejoin="round"/>
<rect x="116.6" y="389.8" width="94.2" height="64.9" rx="2.5" fill="#fff" stroke="#111" stroke-width="1.3"/>
<path d="M124.2,409.7 L155.2,395.9 L202,420.9 L171.7,438.1 Z" fill="#fff" stroke="#111" stroke-width="1.4" stroke-linejoin="round"/>
<path d="M124.2,409.7 L124.9,423.6 L171.7,449.9 L171.7,438.1 M171.7,449.9 L202,434 L202,420.9" fill="none" stroke="#111" stroke-width="1.4" stroke-linejoin="round"/>
<path d="M173.5,438.5 L201,424 M173.5,448.5 V439" stroke="#999" stroke-width="0.8"/>
<circle cx="130.2" cy="420.3" r="2.6" fill="none" stroke="#111" stroke-width="1.1"/><circle cx="137.4" cy="424.4" r="2" fill="none" stroke="#111" stroke-width="1.1"/>
<path d="M144.6,425.5 L165.7,436.7 V440 L144.6,428.8 Z" fill="none" stroke="#111" stroke-width="0.9"/>
<path d="M156,438.5 L164,442.8 M155.5,440.8 L163.5,445" stroke="#111" stroke-width="1.2"/>
<path d="M125.7,454.7 V475.8 M130.3,454.7 V475.8" stroke="#111" stroke-width="1"/>
<path d="M125.2,475.8 H130.8 V478.1 L135.2,482.5 H120.8 L125.2,478.1 Z" fill="#fff" stroke="#111" stroke-width="1.1" stroke-linejoin="round"/>
<path d="M124.1,486.3 Q128,489.5 131.9,486.3" fill="none" stroke="#111" stroke-width="0.95"/>
<path d="M122.7,488.8 Q128,492.8 133.3,488.8" fill="none" stroke="#111" stroke-width="0.95"/>
<path d="M121.0,491.6 Q128,496.8 135.0,491.6" fill="none" stroke="#111" stroke-width="0.95"/>
<path d="M148.89999999999998,454.7 V475.8 M153.5,454.7 V475.8" stroke="#111" stroke-width="1"/>
<path d="M148.39999999999998,475.8 H154.0 V478.1 L158.39999999999998,482.5 H144.0 L148.39999999999998,478.1 Z" fill="#fff" stroke="#111" stroke-width="1.1" stroke-linejoin="round"/>
<path d="M147.29999999999998,486.3 Q151.2,489.5 155.1,486.3" fill="none" stroke="#111" stroke-width="0.95"/>
<path d="M145.89999999999998,488.8 Q151.2,492.8 156.5,488.8" fill="none" stroke="#111" stroke-width="0.95"/>
<path d="M144.2,491.6 Q151.2,496.8 158.2,491.6" fill="none" stroke="#111" stroke-width="0.95"/>
<path d="M171.89999999999998,454.7 V475.8 M176.5,454.7 V475.8" stroke="#111" stroke-width="1"/>
<path d="M171.39999999999998,475.8 H177.0 V478.1 L181.39999999999998,482.5 H167.0 L171.39999999999998,478.1 Z" fill="#fff" stroke="#111" stroke-width="1.1" stroke-linejoin="round"/>
<path d="M170.29999999999998,486.3 Q174.2,489.5 178.1,486.3" fill="none" stroke="#111" stroke-width="0.95"/>
<path d="M168.89999999999998,488.8 Q174.2,492.8 179.5,488.8" fill="none" stroke="#111" stroke-width="0.95"/>
<path d="M167.2,491.6 Q174.2,496.8 181.2,491.6" fill="none" stroke="#111" stroke-width="0.95"/>
<path d="M195.0,454.7 V475.8 M199.60000000000002,454.7 V475.8" stroke="#111" stroke-width="1"/>
<path d="M194.5,475.8 H200.10000000000002 V478.1 L204.5,482.5 H190.10000000000002 L194.5,478.1 Z" fill="#fff" stroke="#111" stroke-width="1.1" stroke-linejoin="round"/>
<path d="M193.4,486.3 Q197.3,489.5 201.20000000000002,486.3" fill="none" stroke="#111" stroke-width="0.95"/>
<path d="M192.0,488.8 Q197.3,492.8 202.60000000000002,488.8" fill="none" stroke="#111" stroke-width="0.95"/>
<path d="M190.3,491.6 Q197.3,496.8 204.3,491.6" fill="none" stroke="#111" stroke-width="0.95"/>
<text x="117.00" y="509.8" font-size="10.03" font-weight="bold" textLength="87.72" lengthAdjust="spacingAndGlyphs" stroke="#111" stroke-width="0.15">Vehicle amplifier</text>
<rect x="238.3" y="366.4" width="26.3" height="67.8" fill="#fff" stroke="#111" stroke-width="1.1"/>
<g transform="translate(248.3,422) rotate(-90) scale(0.68,1)"><text x="0" y="0" font-size="7.6" textLength="65" lengthAdjust="spacing">REAR MONITOR</text></g>
<g transform="translate(257.9,434.4) rotate(-90) scale(0.68,1)"><text x="0" y="0" font-size="7.6" textLength="98" lengthAdjust="spacing">AUDIO VIDEO OUTPUT</text></g>
<path d="M265,340 V450.5" fill="none" stroke="#111" stroke-width="2.4" stroke-linecap="butt" stroke-linejoin="round"/>
<rect x="220.5" y="450.9" width="80.4" height="63.6" rx="3" fill="#fff" stroke="#111" stroke-width="1.6"/>
<rect x="227" y="456.8" width="67.2" height="48.2" rx="2.5" fill="#fff" stroke="#111" stroke-width="1.5"/>
<text x="230.92" y="482.8" font-size="12.94" font-weight="normal" textLength="60.03" lengthAdjust="spacing">Rear LCD</text>
<path d="M231.2,470.5 L242.4,461.2 M233.2,464.8 L238.6,460.4 M278.6,502 L289.4,491.4 M283,502.2 L289.2,496" stroke="#111" stroke-width="1.3"/>
<ellipse cx="249.6" cy="510.5" rx="2.2" ry="1.4" fill="none" stroke="#111" stroke-width="1"/>
<ellipse cx="256.8" cy="510.5" rx="2.2" ry="1.4" fill="none" stroke="#111" stroke-width="1"/>
<ellipse cx="263.9" cy="510.5" rx="2.2" ry="1.4" fill="none" stroke="#111" stroke-width="1"/>
<ellipse cx="271.3" cy="510.5" rx="2.2" ry="1.4" fill="none" stroke="#111" stroke-width="1"/>
<path d="M501.4,235 L501.40,362.80 Q501.4,365.8 498.40,365.80 L470.5,365.8" fill="none" stroke="#111" stroke-width="2.4" stroke-linecap="butt" stroke-linejoin="round"/>
<path d="M526.7,235 L526.70,406.80 Q526.7,409.8 523.70,409.80 L499.5,409.8" fill="none" stroke="#111" stroke-width="2.4" stroke-linecap="butt" stroke-linejoin="round"/>
<rect x="445.20" y="359.40" width="24.80" height="11.50" rx="1.6" fill="#fff" stroke="#111" stroke-width="1.6"/>
<text x="446.59" y="368.6" font-size="10.17" font-weight="normal" textLength="21.73" lengthAdjust="spacing" stroke="#111" stroke-width="0.15">AUX</text>
<rect x="527.3" y="369.3" width="12.2" height="32.1" fill="#fff" stroke="#111" stroke-width="1.1"/>
<g transform="translate(529.9,374.9) rotate(90)"><text x="0" y="0" font-size="10.3" stroke="#111" stroke-width="0.15" textLength="20.1" lengthAdjust="spacing">USB</text></g>
<path d="M458.2,401.1 H481.2 L485.4,404.3 H490.5 V413.2 H486.4 L480.9,417.5 H458.2 Z" fill="#fff" stroke="#111" stroke-width="1.3" stroke-linejoin="round"/>
<rect x="490.2" y="402.4" width="2.4" height="13.1" rx="0.8" fill="#fff" stroke="#111" stroke-width="1.1"/>
<rect x="492.6" y="405.2" width="7.2" height="7.4" fill="#111"/>
<path d="M494.5,406.3 V411.5 M497,406.3 V411.5" stroke="#fff" stroke-width="0.9"/>
<rect x="465.2" y="404.3" width="14.4" height="9.4" rx="3.2" fill="#fff" stroke="#111" stroke-width="1.2"/>
<path d="M467.5,409 H476.5" stroke="#111" stroke-width="1.1"/><path d="M476.8,409 L474.8,407.6 V410.4 Z" fill="#111"/><path d="M469.5,409 L471,406.9 H473 M471,409 L472.5,411 H474" fill="none" stroke="#111" stroke-width="0.9"/><circle cx="468" cy="409" r="0.9" fill="#111"/>
<path d="M572,235 V358.7" fill="none" stroke="#111" stroke-width="1.8" stroke-linecap="butt" stroke-linejoin="round"/>
<rect x="572.4" y="319.2" width="12" height="25.6" fill="#fff" stroke="#111" stroke-width="1.1"/>
<g transform="translate(581.6,339.5) rotate(-90)"><text x="0" y="0" font-size="10.6" stroke="#111" stroke-width="0.15" textLength="18.6" lengthAdjust="spacingAndGlyphs">USB</text></g>
<rect x="568.3" y="358.3" width="7" height="6.6" fill="#111"/>
<path d="M568.8,360.3 H574.8 M568.8,362.6 H574.8" stroke="#fff" stroke-width="0.8"/>
<path d="M565.6,365.5 H578.2 Q578.9,365.5 578.9,366.7 Q578.9,367.9 578.2,367.9 H576.9 V371.3 L579.8,376.1 V399.6 H564.1 V376.1 L567.3,371.3 V367.9 H565.6 Q564.9,367.9 564.9,366.7 Q564.9,365.5 565.6,365.5 Z" fill="#fff" stroke="#111" stroke-width="1.2" stroke-linejoin="round"/>
<rect x="567.5" y="378.9" width="9.2" height="13.8" rx="3" fill="#fff" stroke="#111" stroke-width="1.1"/>
<path d="M572.1,381 V391" stroke="#111" stroke-width="1"/><path d="M572.1,380.6 L570.9,382.6 H573.3 Z" fill="#111"/><path d="M572.1,388 L570.2,386.3 V384.5 M572.1,386 L574,384.4 V383" fill="none" stroke="#111" stroke-width="0.9"/><circle cx="572.1" cy="390.8" r="0.9" fill="#111"/>
<path d="M615.5,235 L615.50,434.00 Q615.5,437 618.50,437.00 L690.5,437" fill="none" stroke="#111" stroke-width="2.5" stroke-linecap="butt" stroke-linejoin="round"/>
<path d="M633.6,235 L633.60,362.20 Q633.6,365.2 636.60,365.20 L651.7,365.2" fill="none" stroke="#111" stroke-width="2.4" stroke-linecap="butt" stroke-linejoin="round"/>
<rect x="651.90" y="359.70" width="68.20" height="10.80" rx="1.6" fill="#fff" stroke="#111" stroke-width="1.4"/>
<text x="657.53" y="367" font-size="7.85" font-weight="bold" textLength="59.07" lengthAdjust="spacingAndGlyphs" stroke="#111" stroke-width="0.3">Reverse trigger</text>
<rect x="622.10" y="439.40" width="61.90" height="18.10" rx="1.6" fill="#fff" stroke="#111" stroke-width="1.4"/>
<text x="627.06" y="445.9" font-size="7.41" font-weight="bold" textLength="51.33" lengthAdjust="spacingAndGlyphs" stroke="#111" stroke-width="0.3">Car reversing</text>
<text x="627.06" y="453.6" font-size="7.41" font-weight="bold" textLength="42.83" lengthAdjust="spacingAndGlyphs" stroke="#111" stroke-width="0.3">video input</text>
<rect x="691" y="419.6" width="41.9" height="35.7" rx="3.6" fill="#fff" stroke="#111" stroke-width="2"/>
<path d="M695.8,431 L706.9,424.3 L727.9,425.2 L717.7,431.4 Z M695.8,431 H717.7 V449.7 H695.8 Z M717.7,431.4 L727.9,425.2 V442.5 L717.7,449.7" fill="#fff" stroke="#111" stroke-width="2.2" stroke-linejoin="round"/>
<path d="M698.3,439.5 L706.5,434.9 Q710.2,434.6 711.3,438.2 Q711.5,441 709.5,442.5 L702.5,446.5" fill="#fff" stroke="#111" stroke-width="1.9"/>
<circle cx="700.9" cy="443.3" r="3.9" fill="#fff" stroke="#111" stroke-width="1.9"/>
<path d="M669.7,235 V295.4" fill="none" stroke="#111" stroke-width="2.4" stroke-linecap="butt" stroke-linejoin="round"/>
<path d="M695.9,235 V295.4" fill="none" stroke="#111" stroke-width="2.4" stroke-linecap="butt" stroke-linejoin="round"/>
<rect x="661.10" y="295.80" width="18.40" height="10.80" rx="1.6" fill="#fff" stroke="#111" stroke-width="1.4"/>
<text x="664.08" y="303.4" font-size="8.72" font-weight="bold" textLength="12.83" lengthAdjust="spacingAndGlyphs" stroke="#111" stroke-width="0.3">TV</text>
<rect x="685.10" y="295.80" width="65.20" height="10.80" rx="1.6" fill="#fff" stroke="#111" stroke-width="1.4"/>
<text x="689.69" y="303.2" font-size="8.43" font-weight="bold" textLength="56.61" lengthAdjust="spacingAndGlyphs" stroke="#111" stroke-width="0.3">Tire pressure</text>
</svg></body></html>
